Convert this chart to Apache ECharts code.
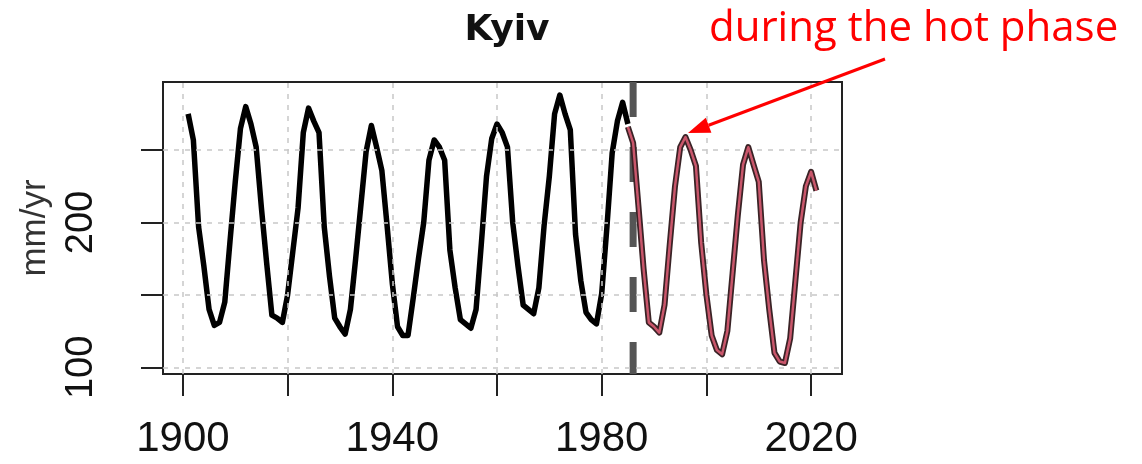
<!DOCTYPE html>
<html>
<head>
<meta charset="utf-8">
<script src="https://cdn.jsdelivr.net/npm/echarts@6/dist/echarts.min.js"></script>
<style>
html,body{margin:0;padding:0;background:#fff;}
#chart{width:1142px;height:464px;}
</style>
</head>
<body>
<div id="chart"></div>
<script>
// ---- data ----
const blackYears = [1901,1902,1903,1904,1905,1906,1907,1908,1909,1910,1911,1912,1913,1914,1915,1916,1917,1918,1919,1920,
  1921,1922,1923,1924,1925,1926,1927,1928,1929,1930,1931,1932,1933,1934,1935,1936,1937,1938,1939,1940,
  1941,1942,1943,1944,1945,1946,1947,1948,1949,1950,1951,1952,1953,1954,1955,1956,1957,1958,1959,1960,
  1961,1962,1963,1964,1965,1966,1967,1968,1969,1970,1971,1972,1973,1974,1975,1976,1977,1978,1979,1980,
  1981,1982,1983,1984,1985];
const blackValues = [275,257,197,170,140,129,131,145,187,228,265,280,268,252,210,172,136,134,131,150,
  180,210,262,279,270,262,197,163,134,128,123,140,175,212,249,267,252,236,198,158,
  128,122,122,148,175,200,243,257,252,243,181,155,133,130,127,140,185,232,258,268,
  262,252,200,170,143,140,137,155,198,232,275,288,275,264,192,160,138,133,130,151,
  197,248,270,283,268];
const hotYears = [1985,1986,1987,1988,1989,1990,1991,1992,1993,1994,1995,1996,1997,1998,1999,2000,
  2001,2002,2003,2004,2005,2006,2007,2008,2009,2010,2011,2012,2013,2014,2015,2016,2017,2018,2019,2020,2021];
const hotValues = [266,255,212,168,131,128,124,143,185,225,252,259,250,239,186,150,
  122,112,109,125,165,205,240,252,240,228,174,140,110,104,103,120,160,200,225,235,222];
const phaseBreakYear = 1986;
const xTickValues = [1900,1920,1940,1960,1980,2000,2020];
const xLabelValues = [1900,1940,1980,2020];
const yTickValues = [100,150,200,250];
const yLabelValues = [100,200];
const xRange = [1896.2, 2025.9];
const yRange = [95.4, 297];
const titleText = 'Kyiv';
const yName = 'mm/yr';
const noteText = 'during the hot phase';

const pairs = (xs, ys) => xs.map((x, i) => [x, ys[i]]);

const chart = echarts.init(document.getElementById('chart'), null, {renderer: 'canvas'});

const gridLineData = xTickValues.map(v => ({xAxis: v})).concat(yTickValues.map(v => ({yAxis: v})));

// arrow geometry (annotation, pixel space)
const tail = [885, 59], tip = [688, 133];
const dx = tip[0] - tail[0], dy = tip[1] - tail[1];
const len = Math.hypot(dx, dy);
const ux = dx / len, uy = dy / len;
const headLen = 22, headHalf = 8;
const base = [tip[0] - headLen * ux, tip[1] - headLen * uy];
const nx = -uy, ny = ux;

const option = {
  animation: false,
  backgroundColor: '#fff',
  title: {
    text: titleText,
    left: 502,
    top: 8,
    textAlign: 'center',
    textStyle: {fontFamily: 'DejaVu Sans', fontWeight: 'bold', fontSize: 36, color: '#111'}
  },
  grid: {left: 163, right: 300, top: 82, bottom: 90, show: true, borderColor: '#222', borderWidth: 2, containLabel: false},
  xAxis: {
    type: 'value', min: xRange[0], max: xRange[1],
    axisLine: {show: false},
    splitLine: {show: false},
    axisTick: {show: true, inside: false, length: 22, customValues: xTickValues, lineStyle: {color: '#222', width: 2}},
    axisLabel: {show: true, customValues: xLabelValues, margin: 44, fontFamily: 'Liberation Sans', fontSize: 42, color: '#111',
      formatter: v => String(v)}
  },
  yAxis: {
    type: 'value', min: yRange[0], max: yRange[1],
    name: yName, nameLocation: 'middle', nameRotate: 90, nameGap: 110,
    nameTextStyle: {fontFamily: 'Liberation Sans', fontSize: 35, color: '#333'},
    axisLine: {show: false},
    splitLine: {show: false},
    axisTick: {show: true, inside: false, length: 22, customValues: yTickValues, lineStyle: {color: '#222', width: 2}},
    axisLabel: {show: true, customValues: yLabelValues, rotate: 90, margin: 62, fontFamily: 'Liberation Sans', fontSize: 38, color: '#111',
      formatter: v => String(v)}
  },
  series: [
    {
      name: 'grid', type: 'line', data: [], z: 1, silent: true,
      markLine: {silent: true, symbol: 'none', animation: false, label: {show: false},
        lineStyle: {type: [5, 6], color: '#c8c8c8', width: 1.5}, data: gridLineData}
    },
    {
      name: 'before', type: 'line', data: pairs(blackYears, blackValues), z: 3,
      showSymbol: false, symbol: 'none', lineStyle: {color: '#000', width: 5.5, join: 'round'}
    },
    {
      name: 'break', type: 'line', data: [[phaseBreakYear, yRange[1]], [phaseBreakYear, yRange[0]]], z: 4,
      showSymbol: false, symbol: 'none', lineStyle: {color: '#555', width: 7, type: [35, 30]}
    },
    {
      name: 'hotOuter', type: 'line', data: pairs(hotYears, hotValues), z: 5,
      showSymbol: false, symbol: 'none', lineStyle: {color: '#3a2326', width: 6, join: 'round'}
    },
    {
      name: 'hotInner', type: 'line', data: pairs(hotYears, hotValues), z: 6,
      showSymbol: false, symbol: 'none', lineStyle: {color: '#c9566b', width: 2.5, join: 'round'}
    }
  ],
  graphic: [
    {type: 'text', left: 709, top: 8, z: 100,
      style: {text: noteText, fill: '#ff0000', fontFamily: 'Open Sans', fontSize: 42}},
    {type: 'line', z: 100, shape: {x1: tail[0], y1: tail[1], x2: base[0], y2: base[1]},
      style: {stroke: '#ff0000', lineWidth: 3}},
    {type: 'polygon', z: 100, shape: {points: [tip,
      [base[0] + nx * headHalf, base[1] + ny * headHalf],
      [base[0] - nx * headHalf, base[1] - ny * headHalf]]},
      style: {fill: '#ff0000'}}
  ]
};
chart.setOption(option);
</script>
</body>
</html>
